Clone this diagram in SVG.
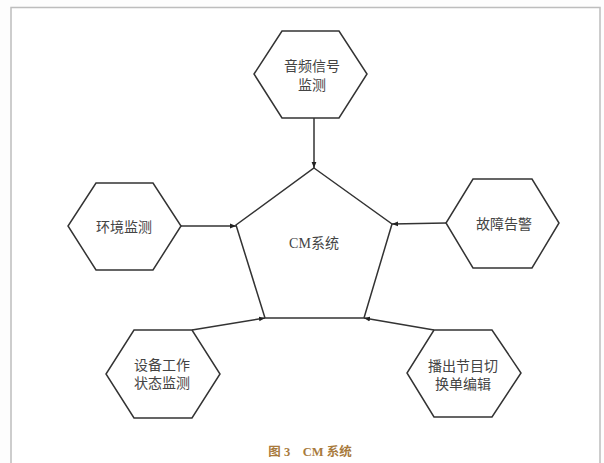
<svg xmlns="http://www.w3.org/2000/svg" width="604" height="463" viewBox="0 0 604 463">
<style>
.shape{fill:#fff;stroke:#333;stroke-width:1.5;stroke-linejoin:miter}
.lbl{font-family:"Liberation Serif","Noto Sans CJK SC",serif;font-size:14px;fill:#444;text-anchor:middle}
.conn{stroke:#333;stroke-width:1.5;fill:none;marker-end:url(#arr)}
.cap{font-family:"Liberation Serif","Noto Sans CJK SC",serif;font-size:12.5px;font-weight:bold;fill:#a87a3c;text-anchor:middle}
</style>
<defs>
<marker id="arr" viewBox="0 0 10 10" refX="10" refY="5" markerWidth="6" markerHeight="6" orient="auto" markerUnits="userSpaceOnUse">
<path d="M0,1 L10,5 L0,9 Z" fill="#222"/>
</marker>
</defs>
<rect x="0" y="0" width="604" height="463" fill="#fdfdfd"/>
<rect x="11" y="7.5" width="589" height="470" fill="#fff" stroke="#bdbdbd" stroke-width="1.5"/>
<g id="connectors">
<line class="conn" x1="314" y1="118" x2="314" y2="168"/>
<line class="conn" x1="181" y1="226" x2="236" y2="226"/>
<line class="conn" x1="446" y1="223" x2="392" y2="224"/>
<line class="conn" x1="192" y1="330" x2="265" y2="318"/>
<line class="conn" x1="434" y1="330" x2="364" y2="318"/>
</g>
<g id="cm">
<polygon class="shape" points="314,168 392,224 364,318 265,318 236,225"/>
<text class="lbl" x="314" y="248">CM系统</text>
</g>
<g id="audio">
<polygon class="shape" points="282,31 339,31 367,74 339,118 282,118 254,74"/>
<text class="lbl" x="312" y="71">音频信号</text>
<text class="lbl" x="312" y="90">监测</text>
</g>
<g id="env">
<polygon class="shape" points="96,183 153,183 181,226 153,270 96,270 68,226"/>
<text class="lbl" x="124" y="232">环境监测</text>
</g>
<g id="alarm">
<polygon class="shape" points="473,179 532,179 559,223 532,268 473,268 446,223"/>
<text class="lbl" x="504" y="229">故障告警</text>
</g>
<g id="device">
<polygon class="shape" points="134,330 192,330 220,374 192,418 134,418 106,374"/>
<text class="lbl" x="162" y="370">设备工作</text>
<text class="lbl" x="162" y="388">状态监测</text>
</g>
<g id="program">
<polygon class="shape" points="434,330 492,330 521,373 492,417 434,417 407,373"/>
<text class="lbl" x="463" y="371">播出节目切</text>
<text class="lbl" x="463" y="389">换单编辑</text>
</g>
<text class="cap" x="310" y="456">图 3　CM 系统</text>
</svg>
